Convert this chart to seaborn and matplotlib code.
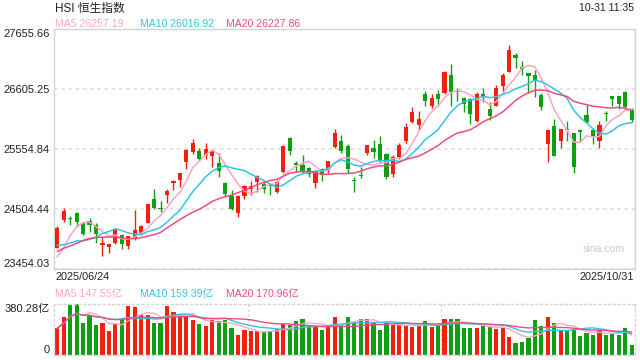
import matplotlib
matplotlib.use("Agg")
import numpy as np
import pandas as pd
import matplotlib.pyplot as plt
import matplotlib.transforms as mtrans
import seaborn as sns

# --- data: HSI daily bars 2025/06/24 .. 2025/10/31 ---
opens = [23827, 24312, 24330, 24434, 24254, 24294, 24224, 23880, 23840, 23909,
         24049, 23856, 23974, 24079, 24265, 24687, 24530, 24744, 24964, 25012,
         25333, 25508, 25525, 25450, 25437, 25304, 24954, 24737, 24429, 24737,
         24855, 24972, 24942, 24930, 24808, 25158, 25753, 25310, 25269, 25222,
         24966, 25199, 25170, 25585, 25695, 25607, 25010, 25090, 25485, 25572,
         25642, 25467, 25117, 25420, 25700, 26022, 25975, 26518, 26303, 26518,
         26530, 26851, 26570, 26443, 26425, 26050, 26518, 26255, 26308, 26663,
         26908, 27200, 26996, 26880, 26850, 26500, 25637, 25958, 25700, 25900,
         25830, 25880, 26150, 25888, 25700, 26180, 26483, 26483, 26547, 26237]
highs = [24207, 24517, 24387, 24457, 24265, 24352, 24254, 24032, 23892, 24149,
         24067, 24040, 24487, 24225, 24600, 24862, 24650, 24850, 25020, 25140,
         25555, 25724, 25578, 25665, 25545, 25479, 24972, 24837, 24750, 24920,
         24995, 25100, 24989, 24954, 25012, 25625, 25760, 25345, 25450, 25245,
         25187, 25217, 25350, 25905, 25800, 25637, 25070, 25245, 25625, 25712,
         25782, 25479, 25450, 25655, 26015, 26284, 26225, 26570, 26518, 26588,
         26926, 27043, 26628, 26471, 26443, 26548, 26617, 26383, 26684, 26880,
         27381, 27241, 27096, 26880, 26938, 26530, 25890, 26080, 25910, 26045,
         25830, 25900, 26325, 25917, 26050, 26220, 26483, 26483, 26575, 26267]
lows = [23822, 24272, 24224, 24184, 24054, 24107, 23914, 23682, 23729, 23886,
        23810, 23799, 23962, 24049, 24254, 24500, 24447, 24614, 24837, 24884,
        25210, 25475, 25350, 25374, 25245, 25070, 24740, 24489, 24359, 24674,
        24749, 24807, 24790, 24755, 24780, 25140, 25450, 25158, 25129, 25070,
        24877, 24995, 25129, 25567, 25490, 25129, 24797, 25042, 25455, 25403,
        25304, 25025, 25070, 25380, 25665, 26005, 25895, 26308, 26275, 26308,
        26518, 26308, 26400, 26198, 25987, 26033, 26383, 26062, 26308, 26558,
        26908, 26967, 26850, 26530, 26470, 26238, 25322, 25438, 25578, 25690,
        25130, 25700, 26005, 25643, 25578, 26050, 26308, 26257, 26238, 26033]
closes = [24177, 24474, 24325, 24284, 24072, 24221, 24069, 23916, 23887, 24148,
          23892, 24028, 24139, 24203, 24590, 24517, 24498, 24825, 24994, 25130,
          25538, 25667, 25388, 25562, 25524, 25177, 24773, 24507, 24733, 24902,
          24910, 25081, 24858, 24907, 24969, 25613, 25519, 25270, 25177, 25122,
          25166, 25105, 25339, 25830, 25525, 25202, 24999, 25078, 25617, 25497,
          25343, 25058, 25418, 25633, 25938, 26200, 26086, 26388, 26446, 26438,
          26908, 26544, 26545, 26344, 26159, 26519, 26485, 26128, 26623, 26856,
          27287, 27141, 26958, 26829, 26753, 26290, 25889, 25441, 25910, 25889,
          25247, 25858, 26027, 25781, 25967, 26160, 26433, 26346, 26282, 26065]
# closes of the 19 sessions before 06/24, needed for the moving averages
prior_closes = [23258, 23573, 23290, 23158, 23512, 23654, 23907, 23792, 24181, 24162,
                24367, 24035, 23892, 24060, 23980, 23711, 23238, 23530, 23689]
# turnover, 亿
volumes = [198, 281, 380, 380, 241, 297, 221, 241, 177, 228,
           261, 368, 357, 297, 297, 236, 236, 368, 322, 297,
           286, 261, 228, 215, 259, 254, 259, 198, 152, 185,
           177, 177, 170, 177, 195, 233, 221, 254, 266, 221,
           210, 190, 210, 281, 221, 281, 246, 271, 271, 246,
           190, 246, 221, 221, 221, 208, 221, 251, 208, 221,
           266, 266, 271, 205, 205, 205, 218, 218, 195, 205,
           137, 91, 99, 129, 259, 213, 281, 236, 190, 185,
           195, 144, 167, 152, 190, 152, 160, 152, 205, 76]

price_ticks = [23454.03, 24504.44, 25554.84, 26605.25, 27655.66]
vol_top = 380.28
first_date, last_date = "2025/06/24", "2025/10/31"
title = "HSI 恒生指数"
stamp = "10-31 11:35"
price_ma_labels = ["MA5 26257.19", "MA10 26016.92", "MA20 26227.86"]
vol_ma_labels = ["MA5 147.55亿", "MA10 159.39亿", "MA20 170.96亿"]

UP, DOWN = "#f2200f", "#0f9f12"
MA_COLORS = ["#f9a6c4", "#33c4e4", "#ee4b81"]

sns.set_style("white")
plt.rcParams["font.family"] = ["Liberation Sans", "Noto Sans CJK SC"]

n = len(closes)
x = np.arange(n)
o, h, l, c = map(np.array, (opens, highs, lows, closes))
cols = np.where(c >= o, UP, DOWN)

allc = pd.Series(prior_closes + closes, dtype=float)
ma = pd.DataFrame({"x": x})
for k in (5, 10, 20):
    ma[f"MA{k}"] = allc.rolling(k).mean().iloc[len(prior_closes):].to_numpy()
vma = pd.DataFrame({"x": x})
for k in (5, 10, 20):
    vma[f"MA{k}"] = pd.Series(volumes, dtype=float).rolling(k, min_periods=1).mean()

fig = plt.figure(figsize=(6.4, 3.6), dpi=100)
ax = fig.add_axes([54 / 640, 1 - 269 / 360, 581 / 640, 240 / 360])
axv = fig.add_axes([54 / 640, 1 - 355 / 360, 581 / 640, 51 / 360])

# candles
ax.vlines(x, l, h, colors=cols, lw=1, zorder=2)
body = np.maximum(np.abs(c - o), 18)
ax.bar(x, body, bottom=np.minimum(o, c), width=0.64, color=cols, lw=0, zorder=3)
for k, col in zip((5, 10, 20), MA_COLORS):
    sns.lineplot(data=ma, x="x", y=f"MA{k}", color=col, lw=1.1, ax=ax, zorder=4)

ax.set_xlim(-0.51, n - 0.49)
ax.set_ylim(price_ticks[0], price_ticks[-1])
ax.set_yticks(price_ticks)
ax.set_yticklabels([f"{t:.2f}" for t in price_ticks])
ax.yaxis.grid(True, ls=(0, (2, 2)), color="#e2e2e2", lw=1.3)
ax.set_xticks([])
ax.set_xlabel("")
ax.set_ylabel("")
ax.tick_params(axis="y", length=0, pad=3, labelsize=8, labelcolor="#222222")
tl = ax.get_yticklabels()
tl[0].set_va("bottom")
tl[-1].set_va("top")
for s in ax.spines.values():
    s.set_color("#d2d2d2")
    s.set_linewidth(1)
ax.text(0.983, 0.083, "sina.com", transform=ax.transAxes, ha="right", va="center",
        fontsize=7.6, color="#cacaca")

# volume
axv.bar(x, volumes, width=0.64, color=cols, lw=0, zorder=2)
for k, col in zip((5, 10, 20), MA_COLORS):
    sns.lineplot(data=vma, x="x", y=f"MA{k}", color=col, lw=1.0, ax=axv, zorder=3)
axv.set_xlim(-0.51, n - 0.49)
axv.set_ylim(0, vol_top)
axv.set_yticks([0, vol_top])
axv.set_yticklabels(["0", f"{vol_top:.2f}亿"])
axv.set_xticks([])
axv.set_xlabel("")
axv.set_ylabel("")
axv.tick_params(axis="y", length=0, pad=3, labelsize=8, labelcolor="#222222")
vl = axv.get_yticklabels()
vl[0].set_va("bottom")
vl[-1].set_va("top")
for xv in (29.5, 59.5):
    axv.axvline(xv, ls=(0, (1.5, 2)), color="#d0d0d0", lw=1, zorder=1)
for s in axv.spines.values():
    s.set_color("#d6d6d6")
    s.set_linestyle((0, (1.5, 2)))
    s.set_linewidth(1)

# header / labels
def ftext(px, py, s, **kw):
    fig.text(px / 640, 1 - py / 360, s, va="center", **kw)

ftext(55, 8.5, title, fontsize=8.5, color="#222222")
ftext(634, 8, stamp, ha="right", fontsize=7.5, color="#222222")
for px, s, col in zip((55, 140.5, 225.5), price_ma_labels, MA_COLORS):
    ftext(px, 24, s, fontsize=7.6, color=col)
ftext(55, 277.5, first_date, fontsize=7.8, color="#222222")
ftext(634, 277.5, last_date, ha="right", fontsize=7.8, color="#222222")
for px, s, col in zip((55, 140.5, 225.5), vol_ma_labels, MA_COLORS):
    ftext(px, 294, s, fontsize=7.6, color=col)

fig.savefig("out.png", dpi=100)
